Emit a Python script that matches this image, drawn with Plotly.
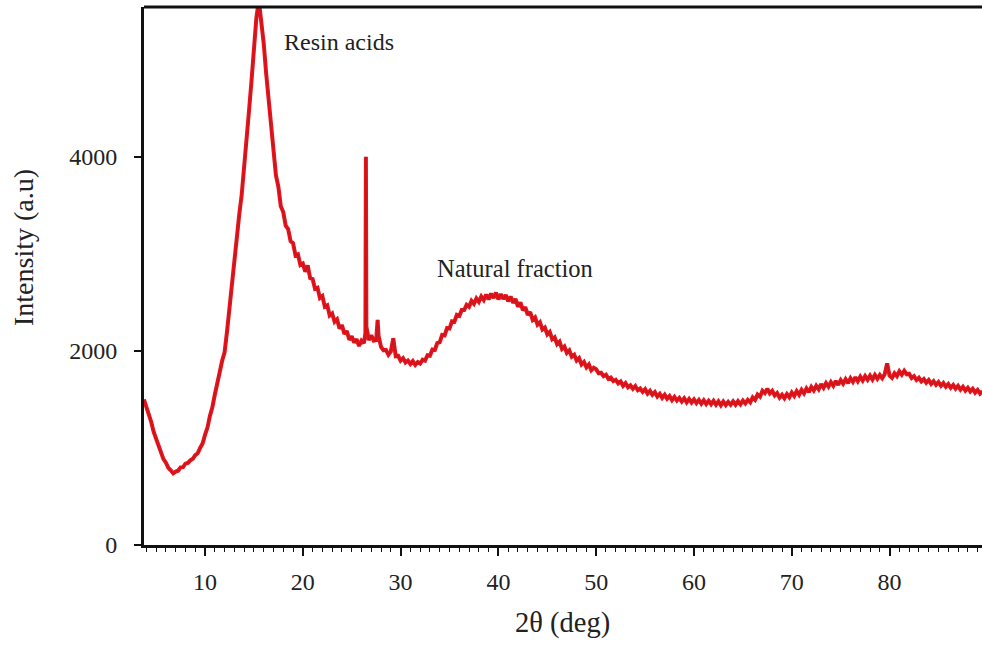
import numpy as np
import plotly.graph_objects as go

# XRD scan, 2-theta from 3.75 deg in 0.25 deg steps (one row per degree)
scan_start = 3.75
scan_step = 0.25
scan_counts = [
    1500,
    1425, 1340, 1268, 1165,   # 4
    1090, 1005, 958, 885,     # 5
    848, 795, 770, 738,       # 6
    756, 765, 800, 802,       # 7
    838, 845, 872, 888,       # 8
    925, 945, 1000, 1045,     # 9
    1135, 1210, 1330, 1418,   # 10
    1548, 1645, 1780, 1898,   # 11
    1985, 2200, 2455, 2670,   # 12
    2920, 3135, 3405, 3610,   # 13
    3875, 4130, 4475, 4780,   # 14
    5130, 5430, 5610, 5420,   # 15
    5170, 4860, 4610, 4280,   # 16
    4065, 3810, 3690, 3490,   # 17
    3430, 3290, 3255, 3130,   # 18
    3110, 2985, 2995, 2885,   # 19
    2900, 2815, 2880, 2750,   # 20
    2740, 2640, 2650, 2545,   # 21
    2565, 2455, 2470, 2365,   # 22
    2385, 2300, 2325, 2230,   # 23
    2265, 2175, 2205, 2115,   # 24
    2150, 2085, 2120, 2050,   # 25
    2105, 2080, 2250, 2110,   # 26
    2160, 2105, 2110, 2150,   # 27
    2040, 2005, 2010, 1960,   # 28
    1995, 2130, 1945, 1950,   # 29
    1900, 1925, 1880, 1900,   # 30
    1865, 1895, 1855, 1885,   # 31
    1870, 1910, 1900, 1955,   # 32
    1950, 2015, 2010, 2080,   # 33
    2090, 2165, 2160, 2235,   # 34
    2230, 2305, 2300, 2370,   # 35
    2360, 2420, 2420, 2475,   # 36
    2455, 2515, 2485, 2540,   # 37
    2505, 2560, 2525, 2580,   # 38
    2530, 2590, 2545, 2600,   # 39
    2530, 2585, 2535, 2575,   # 40
    2510, 2560, 2495, 2535,   # 41
    2455, 2500, 2420, 2450,   # 42
    2370, 2400, 2320, 2345,   # 43
    2270, 2295, 2220, 2240,   # 44
    2170, 2195, 2120, 2140,   # 45
    2070, 2095, 2020, 2045,   # 46
    1980, 2005, 1940, 1960,   # 47
    1900, 1925, 1860, 1885,   # 48
    1830, 1860, 1800, 1825,   # 49
    1810, 1770, 1775, 1740,   # 50
    1755, 1712, 1725, 1688,   # 51
    1702, 1665, 1685, 1640,   # 52
    1668, 1625, 1645, 1610,   # 53
    1638, 1595, 1612, 1578,   # 54
    1605, 1560, 1588, 1548,   # 55
    1575, 1530, 1558, 1515,   # 56
    1548, 1508, 1535, 1492,   # 57
    1525, 1488, 1515, 1478,   # 58
    1512, 1470, 1505, 1468,   # 59
    1500, 1462, 1495, 1455,   # 60
    1490, 1452, 1485, 1450,   # 61
    1485, 1445, 1480, 1440,   # 62
    1478, 1442, 1475, 1445,   # 63
    1480, 1445, 1482, 1450,   # 64
    1488, 1458, 1495, 1470,   # 65
    1520, 1495, 1550, 1528,   # 66
    1590, 1565, 1610, 1562,   # 67
    1588, 1540, 1565, 1518,   # 68
    1548, 1512, 1555, 1522,   # 69
    1570, 1535, 1585, 1548,   # 70
    1598, 1562, 1612, 1575,   # 71
    1628, 1592, 1640, 1605,   # 72
    1658, 1620, 1668, 1632,   # 73
    1678, 1640, 1690, 1650,   # 74
    1698, 1662, 1708, 1668,   # 75
    1718, 1680, 1728, 1688,   # 76
    1735, 1695, 1740, 1702,   # 77
    1745, 1705, 1752, 1712,   # 78
    1752, 1718, 1760, 1870,   # 79
    1745, 1722, 1770, 1740,   # 80
    1790, 1755, 1795, 1760,   # 81
    1765, 1720, 1740, 1700,   # 82
    1722, 1685, 1710, 1672,   # 83
    1700, 1660, 1688, 1650,   # 84
    1678, 1640, 1668, 1630,   # 85
    1658, 1620, 1648, 1610,   # 86
    1640, 1600, 1630, 1590,   # 87
    1620, 1582, 1610, 1570,   # 88
    1598, 1560, 1585,         # 89
]

# sharp crystalline reflections recorded between scan steps
peak_theta = [26.40, 26.45, 27.65]
peak_counts = [2180, 4000, 2320]

x_ticks = [10, 20, 30, 40, 50, 60, 70, 80]
y_ticks = [0, 2000, 4000]

scan_theta = scan_start + scan_step * np.arange(len(scan_counts))
two_theta = np.concatenate([scan_theta, peak_theta])
intensity = np.concatenate([scan_counts, peak_counts])
order = np.argsort(two_theta, kind="stable")
two_theta = two_theta[order]
intensity = intensity[order]

FONT = "Liberation Serif"
INK = "#222222"

fig = go.Figure()
# broad red trace
fig.add_trace(go.Scatter(
    x=two_theta, y=intensity, mode="lines",
    line=dict(color="#e8141c", width=4.0),
    showlegend=False, hoverinfo="x+y",
))
# thin darker core of the same scan
fig.add_trace(go.Scatter(
    x=two_theta, y=intensity, mode="lines",
    line=dict(color="#8c1a1f", width=0.8),
    opacity=0.55, showlegend=False, hoverinfo="skip",
))

fig.update_layout(
    width=982, height=651,
    margin=dict(l=144, r=0, t=7, b=106),
    paper_bgcolor="white", plot_bgcolor="white",
    font=dict(family=FONT, color=INK, size=24),
    xaxis=dict(
        range=[3.76, 89.45],
        tickvals=x_ticks, ticks="outside", ticklen=8, tickwidth=1.6, tickcolor="#111",
        minor=dict(dtick=1, ticks="outside", ticklen=4, tickwidth=1.2, tickcolor="#111"),
        showline=True, linecolor="#111", linewidth=2.5, mirror=False,
        showgrid=False, zeroline=False,
        tickfont=dict(family=FONT, size=24, color=INK),
        ticklabelstandoff=5,
    ),
    yaxis=dict(
        range=[0, 5543],
        tickvals=y_ticks, ticks="outside", ticklen=7, tickwidth=1.6, tickcolor="#111",
        showline=True, linecolor="#111", linewidth=3, mirror=False,
        showgrid=False, zeroline=False,
        tickfont=dict(family=FONT, size=24, color=INK),
        ticklabelstandoff=12,
    ),
    shapes=[
        # top frame line
        dict(type="line", xref="paper", yref="paper", x0=0, x1=1, y0=1, y1=1,
             line=dict(color="#111", width=3)),
    ],
    annotations=[
        dict(x=17.87, y=5182, xref="x", yref="y", text="Resin acids",
             showarrow=False, xanchor="left", yanchor="middle",
             font=dict(family=FONT, size=24, color=INK)),
        dict(x=33.5, y=2853, xref="x", yref="y", text="Natural fraction",
             showarrow=False, xanchor="left", yanchor="middle",
             font=dict(family=FONT, size=24.5, color=INK)),
        dict(x=23, y=248, xref="paper", yref="paper", text="Intensity (a.u)",
             showarrow=False, textangle=-90, xanchor="center", yanchor="middle",
             font=dict(family=FONT, size=28, color=INK)),
        dict(x=562, y=623, xref="paper", yref="paper", text="2θ (deg)",
             showarrow=False, xanchor="center", yanchor="middle",
             font=dict(family=FONT, size=28.5, color=INK)),
    ],
)

# title positions above are given in pixels; convert to paper fractions
pw = 982 - 144 - 0
ph = 651 - 7 - 106
for ann in fig.layout.annotations:
    if ann.xref == "paper":
        ann.x = (ann.x - 144) / pw
        ann.y = (651 - 106 - ann.y) / ph

fig.write_html("out.html")
